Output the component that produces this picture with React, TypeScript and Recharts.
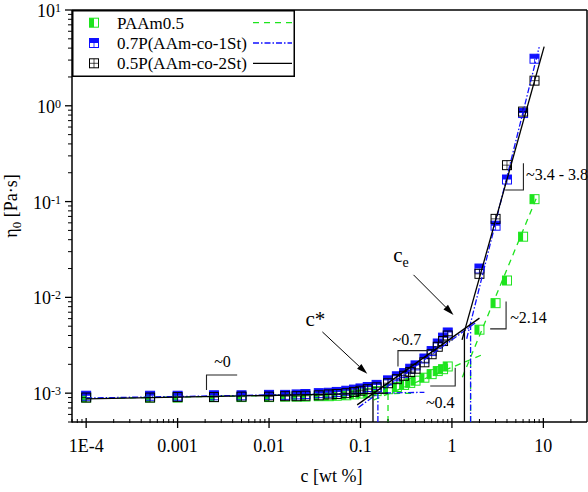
import React from "react";
import {
  ComposedChart,
  Scatter,
  XAxis,
  YAxis,
  ReferenceLine,
  ReferenceDot,
  Legend,
} from "recharts";

const FONT = '"Liberation Serif", "Times New Roman", serif';

const seriesNames = ["PAAm0.5", "0.7P(AAm-co-1St)", "0.5P(AAm-co-2St)"];

// polymer concentration c [wt %]
const conc = [
  1e-4, 5e-4, 0.001, 0.0025, 0.005, 0.01, 0.015, 0.02, 0.025, 0.035, 0.045,
  0.055, 0.07, 0.085, 0.1, 0.12, 0.15, 0.2, 0.25, 0.3, 0.35, 0.4, 0.5, 0.6,
  0.7, 0.8, 0.9, 2, 3, 4, 6, 8,
];

// zero-shear viscosity eta0 [Pa s]
const etaPAAm = [
  9.0e-4, 9.0e-4, 9.0e-4, 9.1e-4, 9.1e-4, 9.1e-4, 9.2e-4, 9.2e-4, 9.2e-4,
  9.3e-4, 9.3e-4, 9.4e-4, 9.5e-4, 9.7e-4, 9.9e-4, 1.01e-3, 1.05e-3, 1.1e-3,
  1.16e-3, 1.22e-3, 1.28e-3, 1.35e-3, 1.45e-3, 1.58e-3, 1.7e-3, 1.78e-3,
  1.9e-3, 0.0046, 0.0087, 0.015, 0.043, 0.106,
];
const etaCo1St = [
  9.4e-4, 9.4e-4, 9.4e-4, 9.5e-4, 9.5e-4, 9.6e-4, 9.6e-4, 9.7e-4, 9.8e-4,
  1.0e-3, 1.01e-3, 1.03e-3, 1.06e-3, 1.09e-3, 1.12e-3, 1.16e-3, 1.22e-3,
  1.36e-3, 1.5e-3, 1.62e-3, 1.8e-3, 1.95e-3, 2.3e-3, 2.75e-3, 3.3e-3, 3.8e-3,
  4.3e-3, 0.02, 0.056, 0.17, 0.84, 3.1,
];
const etaCo2St = [
  9.0e-4, 9.0e-4, 9.1e-4, 9.1e-4, 9.2e-4, 9.2e-4, 9.3e-4, 9.3e-4, 9.4e-4,
  9.5e-4, 9.7e-4, 9.8e-4, 1.0e-3, 1.03e-3, 1.06e-3, 1.1e-3, 1.15e-3, 1.27e-3,
  1.4e-3, 1.52e-3, 1.66e-3, 1.8e-3, 2.1e-3, 2.55e-3, 3.05e-3, 3.5e-3, 4.0e-3,
  0.0176, 0.066, 0.24, 0.87, 1.83,
];

// power-law fit segments + c*, ce drop lines (start/end of each segment)
const fitPAAmC = [[1e-4, 0.4], [0.14, 2.1], [1.3, 8.5], [0.2, 0.2], [1.6, 1.6]];
const fitPAAmEta = [[8.8e-4, 1.0e-3], [8.5e-4, 2.5e-3], [1.47e-3, 0.112], [5e-4, 9.8e-4], [5e-4, 2.3e-3]];
const fitCo1StC = [[1e-4, 0.5], [0.095, 1.8], [1.45, 9], [0.155, 0.155], [1.6, 1.6]];
const fitCo1StEta = [[8.9e-4, 1.02e-3], [7.1e-4, 5.4e-3], [3.7e-3, 4.1], [5e-4, 9.9e-4], [5e-4, 5.0e-3]];
const fitCo2StC = [[1e-4, 0.2], [0.092, 2.0], [1.29, 10.2], [0.137, 0.137], [1.37, 1.37]];
const fitCo2StEta = [[8.7e-4, 1.0e-3], [7.55e-4, 6.07e-3], [3.6e-3, 4.15], [5e-4, 1.0e-3], [5e-4, 4.5e-3]];

// slope markers
const slopeLabels = ["~0", "~0.7", "~0.4", "~2.14", "~3.4 - 3.8"];
const slopeLabelC = [3.1e-3, 0.322, 0.745, 4.33, 6.47];
const slopeLabelEta = [2.12e-3, 3.6e-3, 7.92e-4, 6.1e-3, 0.19];
const bracketC = [
  [2.07e-3, 2.07e-3, 4.48e-3],
  [0.257, 0.257, 0.555],
  [0.579, 1.086, 1.086],
  [2.62, 3.91, 3.91],
  [3.82, 6.05, 6.05],
];
const bracketEta = [
  [1.08e-3, 1.55e-3, 1.55e-3],
  [1.9e-3, 2.78e-3, 2.78e-3],
  [1.19e-3, 1.19e-3, 1.84e-3],
  [4.69e-3, 4.69e-3, 9.04e-3],
  [0.132, 0.132, 0.252],
];

const xMajorTicks = [1e-4, 0.001, 0.01, 0.1, 1, 10];
const xTickLabels = ["1E-4", "0.001", "0.01", "0.1", "1", "10"];
const yMajorTicks = [0.001, 0.01, 0.1, 1, 10];
const yTickExponents = ["-3", "-2", "-1", "0", "1"];

const X_DOMAIN: [number, number] = [7e-5, 30];
const Y_DOMAIN: [number, number] = [5e-4, 10];

const minorTicks = (majors: number[], lo: number, hi: number) => {
  const out: number[] = [];
  [majors[0] / 10, ...majors].forEach((m) => {
    for (let k = 1; k < 10; k++) {
      const v = m * k;
      if (v >= lo * 0.999 && v <= hi * 1.001) out.push(k === 1 ? m : v);
    }
  });
  return out;
};
const xTicks = minorTicks(xMajorTicks, X_DOMAIN[0], 20);
const yTicks = minorTicks(yMajorTicks, Y_DOMAIN[0], Y_DOMAIN[1]);

const GREEN = "#1de41d";
const BLUE = "#1010ff";
const BLACK = "#000";
const colors = [GREEN, BLUE, BLACK];
const dashes = ["6 5", "6 2 1.5 2", undefined];

const toPoints = (cs: number[], etas: number[]) =>
  cs.map((c, i) => ({ c, eta: etas[i] }));

const pointsPAAm = toPoints(conc, etaPAAm);
const pointsCo1St = toPoints(conc, etaCo1St);
const pointsCo2St = toPoints(conc, etaCo2St);

const fitSets = [
  { c: fitPAAmC, eta: fitPAAmEta },
  { c: fitCo1StC, eta: fitCo1StEta },
  { c: fitCo2StC, eta: fitCo2StEta },
];

function Marker({ cx, cy, kind }: { cx: number; cy: number; kind: number }) {
  const h = 4.5;
  const col = colors[kind];
  if (kind === 0) {
    return (
      <g>
        <rect x={cx - h} y={cy - h} width={h} height={2 * h} fill={col} />
        <rect x={cx - h} y={cy - h} width={2 * h} height={2 * h} fill="none" stroke={col} strokeWidth={1} />
      </g>
    );
  }
  if (kind === 1) {
    return (
      <g>
        <rect x={cx - h} y={cy - h} width={2 * h} height={h} fill={col} />
        <rect x={cx - h} y={cy - h} width={2 * h} height={2 * h} fill="none" stroke={col} strokeWidth={1} />
        <line x1={cx} x2={cx} y1={cy} y2={cy + h} stroke={col} strokeWidth={0.8} />
      </g>
    );
  }
  return (
    <g>
      <rect x={cx - h} y={cy - h} width={2 * h} height={2 * h} fill="none" stroke={col} strokeWidth={1} />
      <line x1={cx} x2={cx} y1={cy - h} y2={cy + h} stroke={col} strokeWidth={0.7} />
      <line x1={cx - h} x2={cx + h} y1={cy} y2={cy} stroke={col} strokeWidth={0.7} />
    </g>
  );
}

const XTick = ({ x, y, payload }: any) => {
  const idx = xMajorTicks.indexOf(payload.value);
  if (idx < 0) {
    return <line x1={x} x2={x} y1={y - 3} y2={y + 1} stroke="#000" strokeWidth={1} />;
  }
  return (
    <g>
      <line x1={x} x2={x} y1={y - 4} y2={y + 6} stroke="#000" strokeWidth={1.3} />
      <text x={x} y={y + 30} textAnchor="middle" fontFamily={FONT} fontSize={18} fill="#000">
        {xTickLabels[idx]}
      </text>
    </g>
  );
};

const YTick = ({ x, y, payload }: any) => {
  const idx = yMajorTicks.indexOf(payload.value);
  if (idx < 0) {
    return <line x1={x - 4} x2={x} y1={y} y2={y} stroke="#000" strokeWidth={1} />;
  }
  return (
    <g>
      <line x1={x - 7} x2={x} y1={y} y2={y} stroke="#000" strokeWidth={1.3} />
      <text x={x - 11} y={y + 7} textAnchor="end" fontFamily={FONT} fontSize={18} fill="#000">
        10
        <tspan dy={-5} fontSize={12}>
          {yTickExponents[idx]}
        </tspan>
      </text>
    </g>
  );
};

const Arrow = (props: any) => {
  const { x1, y1, x2, y2 } = props;
  const a = Math.atan2(y2 - y1, x2 - x1);
  const L = 11;
  const W = 3.2;
  const bx = x2 - L * Math.cos(a);
  const by = y2 - L * Math.sin(a);
  const px = -Math.sin(a) * W;
  const py = Math.cos(a) * W;
  return (
    <g>
      <line x1={x1} y1={y1} x2={bx} y2={by} stroke="#000" strokeWidth={1} />
      <polygon points={`${x2},${y2} ${bx + px},${by + py} ${bx - px},${by - py}`} fill="#000" />
    </g>
  );
};

const LegendBox = () => (
  <svg width={223} height={67} style={{ display: "block" }}>
    <rect x={0.75} y={0.75} width={221.5} height={65.5} fill="#fff" stroke="#000" strokeWidth={1.5} />
    {seriesNames.map((name, i) => {
      const cy = 12.7 + i * 20.3;
      return (
        <g key={name}>
          <Marker cx={22} cy={cy} kind={i} />
          <text x={45} y={cy + 6} fontFamily={FONT} fontSize={17} fill="#000">
            {name}
          </text>
          <line x1={181} x2={220} y1={cy} y2={cy} stroke={colors[i]} strokeWidth={1.3} strokeDasharray={dashes[i]} />
        </g>
      );
    })}
  </svg>
);

export default function App() {
  const pointSets = [pointsPAAm, pointsCo1St, pointsCo2St];
  return (
    <div style={{ position: "absolute", left: 0, top: 0, width: 588, height: 492, background: "#fff" }}>
      <ComposedChart
        width={588}
        height={492}
        margin={{ top: 10, right: 1, bottom: 0, left: 0 }}
        style={{ fontFamily: FONT }}
      >
        <XAxis
          type="number"
          dataKey="c"
          scale="log"
          domain={X_DOMAIN}
          allowDataOverflow
          ticks={xTicks}
          interval={0}
          tick={<XTick />}
          tickLine={false}
          tickSize={0}
          tickMargin={0}
          height={70}
          axisLine={{ stroke: "#000", strokeWidth: 1.5 }}
          label={(p: any) => {
            const vb = p.viewBox;
            return (
              <text x={vb.x + vb.width / 2 + 2} y={vb.y + 60} textAnchor="middle" fontFamily={FONT} fontSize={18} fill="#000">
                c [wt %]
              </text>
            );
          }}
        />
        <YAxis
          type="number"
          dataKey="eta"
          scale="log"
          domain={Y_DOMAIN}
          allowDataOverflow
          ticks={yTicks}
          interval={0}
          tick={<YTick />}
          tickLine={false}
          tickSize={0}
          tickMargin={0}
          width={72}
          axisLine={{ stroke: "#000", strokeWidth: 1.5 }}
          label={(p: any) => {
            const vb = p.viewBox;
            const x = vb.x + 17;
            const y = vb.y + vb.height / 2 - 10;
            return (
              <text x={x} y={y} textAnchor="middle" transform={`rotate(-90, ${x}, ${y})`} fontFamily={FONT} fontSize={18} fill="#000">
                η<tspan fontSize={13} dy={4}>0</tspan>
                <tspan dy={-4}> [Pa·s]</tspan>
              </text>
            );
          }}
        />
        <ReferenceLine y={10} stroke="#000" strokeWidth={1.5} />
        <ReferenceLine x={30} stroke="#000" strokeWidth={1.5} />

        {pointSets.map((pts, i) => (
          <Scatter
            key={`pts-${i}`}
            name={seriesNames[i]}
            data={pts}
            isAnimationActive={false}
            shape={(p: any) => <Marker cx={p.cx} cy={p.cy} kind={i} />}
          />
        ))}

        {fitSets.map((fit, i) =>
          fit.c.map((seg, j) => (
            <Scatter
              key={`fit-${i}-${j}`}
              data={toPoints(seg, fit.eta[j])}
              isAnimationActive={false}
              legendType="none"
              line={{ stroke: colors[i], strokeWidth: 1.3, strokeDasharray: dashes[i] }}
              shape={() => <g />}
            />
          ))
        )}

        {bracketC.map((cs, i) => (
          <Scatter
            key={`br-${i}`}
            data={toPoints(cs, bracketEta[i])}
            isAnimationActive={false}
            legendType="none"
            line={{ stroke: "#222", strokeWidth: 1.1 }}
            shape={() => <g />}
          />
        ))}

        {slopeLabels.map((t, i) => (
          <ReferenceDot
            key={`sl-${i}`}
            x={slopeLabelC[i]}
            y={slopeLabelEta[i]}
            r={0}
            shape={(p: any) => (
              <text x={p.cx} y={p.cy + 5} textAnchor={i < 3 ? "middle" : "start"} fontFamily={FONT} fontSize={16} fill="#000">
                {t}
              </text>
            )}
          />
        ))}

        <ReferenceLine
          segment={[{ x: 0.0383, y: 4.36e-3 }, { x: 0.1186, y: 1.59e-3 }]}
          shape={(p: any) => <Arrow {...p} />}
        />
        <ReferenceLine
          segment={[{ x: 0.38, y: 0.01718 }, { x: 1.04, y: 6.56e-3 }]}
          shape={(p: any) => <Arrow {...p} />}
        />
        <ReferenceDot
          x={0.0321}
          y={5.82e-3}
          r={0}
          shape={(p: any) => (
            <text x={p.cx} y={p.cy + 6} textAnchor="middle" fontFamily={FONT} fontSize={21} fill="#000">
              c*
            </text>
          )}
        />
        <ReferenceDot
          x={0.228}
          y={0.0235}
          r={0}
          shape={(p: any) => (
            <text x={p.cx} y={p.cy} fontFamily={FONT} fontSize={21} fill="#000">
              c<tspan fontSize={14} dy={5}>e</tspan>
            </text>
          )}
        />

        <Legend
          layout="vertical"
          align="center"
          verticalAlign="middle"
          wrapperStyle={{ position: "absolute", left: 72, top: 10, width: 223, height: 67 }}
          content={() => <LegendBox />}
        />
      </ComposedChart>
    </div>
  );
}
